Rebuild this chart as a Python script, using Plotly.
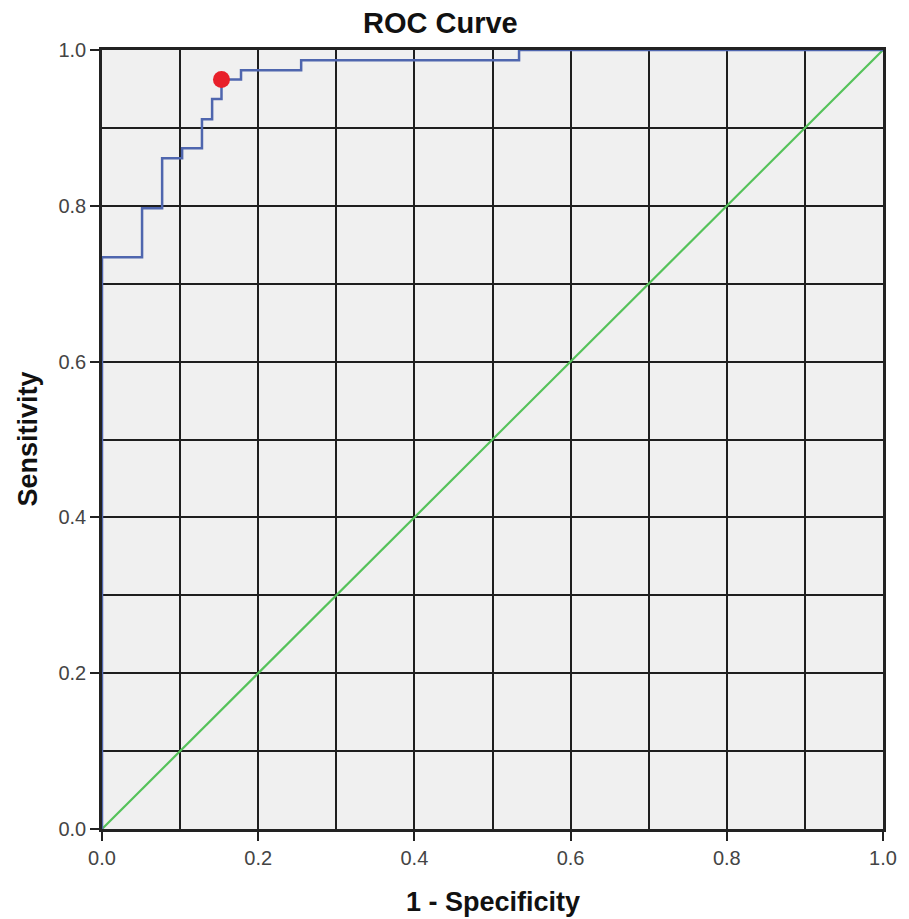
import plotly.graph_objects as go

# ROC curve step points (1 - specificity, sensitivity)
fpr = [0.0, 0.0, 0.0513, 0.0513, 0.077, 0.077, 0.1026, 0.1026, 0.128, 0.128,
       0.141, 0.141, 0.153, 0.153, 0.178, 0.178, 0.255, 0.255, 0.534, 0.534, 1.0]
tpr = [0.0, 0.734, 0.734, 0.797, 0.797, 0.861, 0.861, 0.874, 0.874, 0.911,
       0.911, 0.937, 0.937, 0.962, 0.962, 0.974, 0.974, 0.987, 0.987, 1.0, 1.0]
ref_x = [0.0, 1.0]
ref_y = [0.0, 1.0]
cut_x = [0.153]
cut_y = [0.962]
tick_vals = [0.0, 0.2, 0.4, 0.6, 0.8, 1.0]
tick_text = ["0.0", "0.2", "0.4", "0.6", "0.8", "1.0"]

FONT = "Liberation Sans, Arial, sans-serif"

fig = go.Figure()
fig.add_trace(go.Scatter(x=ref_x, y=ref_y, mode="lines",
                         line=dict(color="#55c25a", width=2.2), showlegend=False))
fig.add_trace(go.Scatter(x=fpr, y=tpr, mode="lines",
                         line=dict(color="#4f66ae", width=2.5), showlegend=False))
fig.add_trace(go.Scatter(x=cut_x, y=cut_y, mode="markers",
                         marker=dict(color="#e8202a", size=17, symbol="circle"),
                         showlegend=False))

axis_common = dict(
    range=[0, 1], tickvals=tick_vals, ticktext=tick_text,
    showgrid=True, gridcolor="#1e1e1e", gridwidth=2,
    minor=dict(dtick=0.1, tick0=0, showgrid=True, gridcolor="#1e1e1e", gridwidth=2),
    showline=True, linecolor="#222222", linewidth=2.5, mirror=True,
    ticks="outside", ticklen=9, tickwidth=2, tickcolor="#222222",
    tickfont=dict(family=FONT, size=20, color="#444444"),
    zeroline=False, fixedrange=True, title=None,
)

fig.update_layout(
    width=901, height=911,
    margin=dict(l=94, r=26, t=42, b=90),
    paper_bgcolor="white", plot_bgcolor="#f0f0f0",
    xaxis=axis_common,
    yaxis=axis_common,
    annotations=[
        dict(text="<b>ROC Curve</b>", xref="paper", yref="paper",
             x=0.434, y=1.0, yshift=27, showarrow=False,
             xanchor="center", yanchor="middle",
             font=dict(family=FONT, size=29, color="#111111")),
        dict(text="<b>1 - Specificity</b>", xref="paper", yref="paper",
             x=0.5, y=0.0, yshift=-73, showarrow=False,
             xanchor="center", yanchor="middle",
             font=dict(family=FONT, size=27, color="#111111")),
        dict(text="<b>Sensitivity</b>", xref="paper", yref="paper",
             x=0.0, y=0.5, xshift=-75, showarrow=False, textangle=-90,
             xanchor="center", yanchor="middle",
             font=dict(family=FONT, size=27, color="#111111")),
    ],
)

fig.write_html("out.html")
